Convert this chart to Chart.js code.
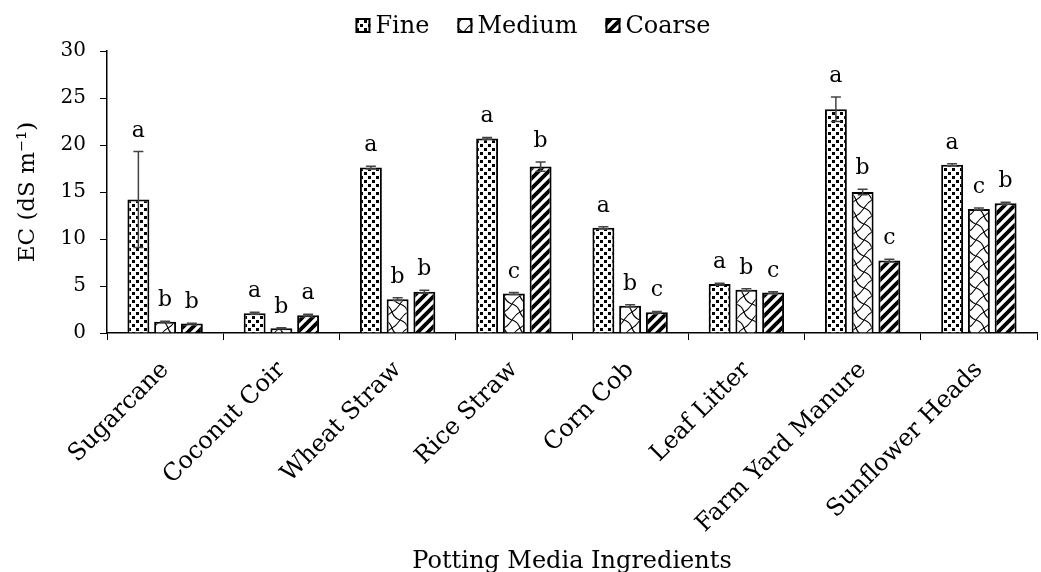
<!DOCTYPE html>
<html>
<head>
<meta charset="utf-8">
<script src="https://cdn.jsdelivr.net/npm/chart.js@4"></script>
<style>
  html, body { margin: 0; padding: 0; background: #fff; }
  #wrap { width: 1041px; height: 572px; }
</style>
</head>
<body>
<div id="wrap"><canvas id="ecChart" width="1041" height="572"></canvas></div>
<script>
// chart values
const categories = ['Sugarcane', 'Coconut Coir', 'Wheat Straw', 'Rice Straw', 'Corn Cob', 'Leaf Litter', 'Farm Yard Manure', 'Sunflower Heads'];
const seriesNames = ['Fine', 'Medium', 'Coarse'];
const fineValues = [14.2, 2.1, 17.6, 20.7, 11.2, 5.2, 23.8, 17.9];
const mediumValues = [1.2, 0.5, 3.6, 4.2, 2.9, 4.6, 15.0, 13.2];
const coarseValues = [1.0, 1.9, 4.4, 17.7, 2.2, 4.3, 7.7, 13.8];
const fineErrors = [5.1, 0.1, 0.15, 0.1, 0.1, 0.1, 1.3, 0.1];
const mediumErrors = [0.05, 0.05, 0.15, 0.1, 0.1, 0.1, 0.3, 0.1];
const coarseErrors = [0.05, 0.1, 0.15, 0.5, 0.1, 0.1, 0.15, 0.1];
const fineLetters = ['a', 'a', 'a', 'a', 'a', 'a', 'a', 'a'];
const mediumLetters = ['b', 'b', 'b', 'c', 'b', 'b', 'b', 'c'];
const coarseLetters = ['b', 'a', 'b', 'b', 'c', 'c', 'c', 'b'];
const yTicks = [0, 5, 10, 15, 20, 25, 30];

const serif = '"DejaVu Serif", "Liberation Serif", serif';

// fill patterns
function makeTile(w, h, paint) {
  const c = document.createElement('canvas');
  c.width = w; c.height = h;
  const g = c.getContext('2d');
  g.fillStyle = '#fff';
  g.fillRect(0, 0, w, h);
  paint(g);
  return document.createElement('canvas').getContext('2d').createPattern(c, 'repeat');
}

const finePattern = makeTile(8, 8, g => {
  g.fillStyle = '#000';
  g.fillRect(0, 0, 3, 3);
  g.fillRect(4, 4, 3, 3);
});

const mediumPattern = makeTile(16, 16, g => {
  g.strokeStyle = '#000';
  g.lineWidth = 1.1;
  g.beginPath();
  // wavy lattice
  g.moveTo(0, 0); g.quadraticCurveTo(6, 2, 8, 8); g.quadraticCurveTo(10, 14, 16, 16);
  g.moveTo(16, 0); g.quadraticCurveTo(12, 6, 8, 8); g.quadraticCurveTo(4, 10, 0, 16);
  g.stroke();
});

const coarsePattern = makeTile(10, 10, g => {
  g.strokeStyle = '#000';
  g.lineWidth = 3.8;
  g.beginPath();
  g.moveTo(-2, 12); g.lineTo(12, -2);
  g.moveTo(-7, 7); g.lineTo(7, -7);
  g.moveTo(3, 17); g.lineTo(17, 3);
  g.stroke();
});

const patterns = [finePattern, mediumPattern, coarsePattern];
const errorSets = [fineErrors, mediumErrors, coarseErrors];
const letterSets = [fineLetters, mediumLetters, coarseLetters];

const errorBarPlugin = {
  id: 'errorBars',
  afterDatasetsDraw(chart) {
    const ctx = chart.ctx;
    const y = chart.scales.y;
    ctx.save();
    chart.data.datasets.forEach((ds, i) => {
      const meta = chart.getDatasetMeta(i);
      meta.data.forEach((bar, j) => {
        const v = ds.data[j];
        const e = errorSets[i][j];
        const top = y.getPixelForValue(v + e);
        const bot = y.getPixelForValue(v - e);
        ctx.strokeStyle = '#444';
        ctx.lineWidth = 1.5;
        ctx.beginPath();
        ctx.moveTo(bar.x, top); ctx.lineTo(bar.x, bot);
        ctx.moveTo(bar.x - 5, top); ctx.lineTo(bar.x + 5, top);
        ctx.moveTo(bar.x - 5, bot); ctx.lineTo(bar.x + 5, bot);
        ctx.stroke();
        ctx.fillStyle = '#000';
        ctx.font = '22px ' + serif;
        ctx.textAlign = 'center';
        ctx.textBaseline = 'alphabetic';
        ctx.fillText(letterSets[i][j], bar.x, top - 15);
      });
    });
    ctx.restore();
  }
};

// legend drawn by hand so the box/text spacing matches the figure
const patternLegend = {
  id: 'patternLegend',
  afterDraw(chart) {
    const ctx = chart.ctx;
    ctx.save();
    ctx.font = '24px ' + serif;
    const box = 15, gap = 5, spacing = 28;
    const widths = seriesNames.map(n => ctx.measureText(n).width);
    const total = widths.reduce((s, w) => s + box + gap + w, 0) + spacing * (seriesNames.length - 1);
    let x = 533 - total / 2;
    const baseline = 33;
    seriesNames.forEach((name, i) => {
      ctx.fillStyle = patterns[i];
      ctx.fillRect(x, baseline - box, box, box);
      ctx.strokeStyle = '#000';
      ctx.lineWidth = 2;
      ctx.strokeRect(x + 1, baseline - box + 1, box - 2, box - 2);
      ctx.fillStyle = '#000';
      ctx.textAlign = 'left';
      ctx.textBaseline = 'alphabetic';
      ctx.fillText(name, x + box + gap, baseline);
      x += box + gap + widths[i] + spacing;
    });
    ctx.restore();
  }
};

new Chart(document.getElementById('ecChart'), {
  type: 'bar',
  data: {
    labels: categories,
    datasets: [
      { label: seriesNames[0], data: fineValues, backgroundColor: finePattern, borderColor: '#000', borderWidth: 2 },
      { label: seriesNames[1], data: mediumValues, backgroundColor: mediumPattern, borderColor: '#000', borderWidth: 2 },
      { label: seriesNames[2], data: coarseValues, backgroundColor: coarsePattern, borderColor: '#000', borderWidth: 2 }
    ]
  },
  options: {
    responsive: false,
    animation: false,
    layout: { padding: { top: 51, right: 4, left: 8, bottom: 0 } },
    datasets: { bar: { categoryPercentage: 0.69, barPercentage: 0.82 } },
    plugins: {
      legend: { display: false },
      tooltip: { enabled: false }
    },
    scales: {
      x: {
        offset: true,
        grid: { display: true, drawOnChartArea: false, offset: true, color: '#000', tickLength: 7 },
        border: { display: true, color: '#000', width: 1.5 },
        ticks: { color: '#000', font: { family: serif, size: 24 }, maxRotation: 45, minRotation: 45, padding: 16 },
        title: { display: true, text: 'Potting Media Ingredients', color: '#000', font: { family: serif, size: 24 }, padding: { top: 0, bottom: -4 } },
        afterFit(scale) { scale.height = 239; }
      },
      y: {
        min: 0,
        max: 30,
        afterBuildTicks(scale) { scale.ticks = yTicks.map(v => ({ value: v })); },
        grid: { display: true, drawOnChartArea: false, color: '#000', tickLength: 7 },
        border: { display: true, color: '#000', width: 1.5 },
        ticks: { color: '#000', font: { family: serif, size: 20 }, padding: 14 },
        title: { display: true, text: 'EC (dS m⁻¹)', color: '#000', font: { family: serif, size: 23 }, padding: { top: 6, bottom: 0 } },
        afterFit(scale) { scale.width = 99; }
      }
    }
  },
  plugins: [errorBarPlugin, patternLegend]
});
</script>
</body>
</html>
